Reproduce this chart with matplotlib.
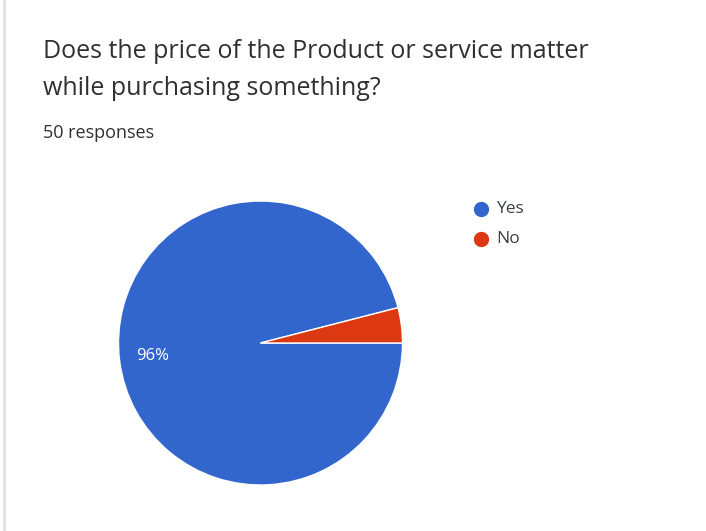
import matplotlib.pyplot as plt
from matplotlib.lines import Line2D

# Data
labels = ['Yes', 'No']
shares = [96, 4]
colors = ['#3366cc', '#dc3912']

W, H = 706, 531
fig = plt.figure(figsize=(W / 100, H / 100), dpi=100)
fig.patch.set_facecolor('white')

# thin grey border on the left
fig.add_artist(Line2D([4 / W, 4 / W], [0, 1], color='#e0e0e0', lw=2))

# title and subtitle
fig.text(43 / W, 1 - 58 / H, 'Does the price of the Product or service matter',
         fontsize=18, family='Open Sans', color='#303030', va='baseline')
fig.text(43 / W, 1 - 95 / H, 'while purchasing something?',
         fontsize=18, family='Open Sans', color='#303030', va='baseline')
fig.text(43 / W, 1 - 138 / H, '50 responses',
         fontsize=13, family='Open Sans', color='#303030', va='baseline')

# pie axes placed over the circle's pixel box
cx, cy, r = 260.5, 343, 142
ax = fig.add_axes([(cx - r) / W, 1 - (cy + r) / H, 2 * r / W, 2 * r / H])
wedges, _ = ax.pie(shares, colors=colors, startangle=0, counterclock=False,
                   radius=1, wedgeprops=dict(edgecolor='white', linewidth=1))
ax.set_xlim(-1, 1)
ax.set_ylim(-1, 1)
ax.axis('off')

# percent label on the big slice
ax.text(-0.76, -0.09, '96%', color='white', fontsize=12, family='Open Sans',
        ha='center', va='center')

# legend
for i, lab in enumerate(labels):
    y = 1 - (209 + 30 * i) / H
    fig.add_artist(Line2D([481 / W], [y], marker='o', markersize=10,
                          color=colors[i], linestyle=''))
    fig.text(496 / W, y, lab, fontsize=12.5, family='Open Sans', color='#3c4043',
             va='center')

fig.savefig('out.png', dpi=100)
